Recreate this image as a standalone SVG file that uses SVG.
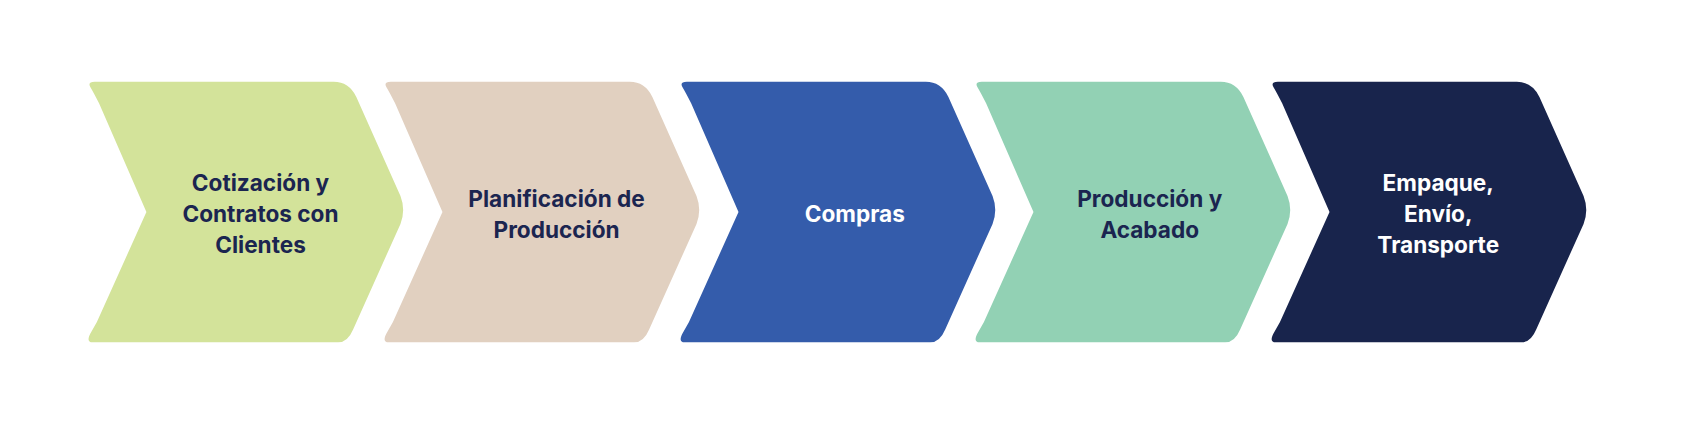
<svg xmlns="http://www.w3.org/2000/svg" width="1688" height="426" viewBox="0 0 1688 426">
<style>
text{font-family:Inter,"Liberation Sans",sans-serif;font-weight:700;font-size:21px;text-anchor:middle}
.d{fill:#1B2550}.w{fill:#fff}
</style>
<defs>
<path id="chev" d="M6,0 L228,0 Q242,0 249,14 L290,106 Q295,119 290,132 L246,230 Q241,242 232,242 L4,242 Q-3,242 3,232 L8,223 L54,121 L10,20 Q5,10 2,5 Q-1,0 6,0 Z"/>
</defs>
<rect width="1688" height="426" fill="#fff"/>
<g id="connectors"/>
<g transform="scale(1.07653)">
<g id="n1"><use href="#chev" x="82" y="76" fill="#D3E39A"/><text class="d" x="242" y="177">Cotización y</text><text class="d" x="242" y="206">Contratos con</text><text class="d" x="242" y="235">Clientes</text></g>
<g id="n2"><use href="#chev" x="357" y="76" fill="#E1D0C0"/><text class="d" x="517" y="192">Planificación de</text><text class="d" x="517" y="221">Producción</text></g>
<g id="n3"><use href="#chev" x="632" y="76" fill="#345CAB"/><text class="w" x="794" y="206">Compras</text></g>
<g id="n4"><use href="#chev" x="906" y="76" fill="#92D1B4"/><text class="d" x="1068" y="192">Producción y</text><text class="d" x="1068" y="221">Acabado</text></g>
<g id="n5"><use href="#chev" x="1181" y="76" fill="#18244C"/><text class="w" x="1336" y="177">Empaque,</text><text class="w" x="1336" y="206">Envío,</text><text class="w" x="1336" y="235">Transporte</text></g>
</g>
</svg>
